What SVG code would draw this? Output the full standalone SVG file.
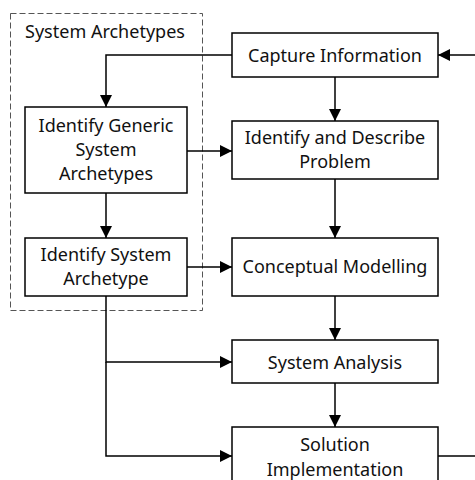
<svg xmlns="http://www.w3.org/2000/svg" width="475" height="480" viewBox="0 0 475 480">
  <defs>
    <marker id="arrow" viewBox="0 0 12 12" refX="12" refY="6" markerWidth="12" markerHeight="12" markerUnits="userSpaceOnUse" orient="auto">
      <path d="M0,0 L12,6 L0,12 Z" fill="#000"/>
    </marker>
    <style>
      .box { fill: #fff; stroke: #000; stroke-width: 1.5; }
      .group { fill: none; stroke: #555; stroke-width: 1; stroke-dasharray: 6 3; }
      .lbl { font-family: "Noto Sans", "Open Sans", sans-serif; font-size: 18px; fill: #111; text-anchor: middle; }
      .conn { fill: none; stroke: #000; stroke-width: 1.5; }
      .arr { marker-end: url(#arrow); }
    </style>
  </defs>
  <rect width="475" height="480" fill="#fff"/>

  <!-- dashed grouping frame -->
  <g id="archetypes-frame">
    <rect class="group" x="10.5" y="13.5" width="192" height="297"/>
    <text class="lbl" x="105" y="38">System Archetypes</text>
  </g>

  <!-- connectors -->
  <g id="connectors">
    <path class="conn arr" d="M232,55 H106 V107"/>
    <path class="conn arr" d="M475,55 H438"/>
    <path class="conn arr" d="M335,77 V121"/>
    <path class="conn arr" d="M187,151 H232"/>
    <path class="conn arr" d="M335,179 V238"/>
    <path class="conn arr" d="M106,193 V238"/>
    <path class="conn arr" d="M187,267 H232"/>
    <path class="conn arr" d="M335,296 V340"/>
    <path class="conn arr" d="M106,296 V362 H232"/>
    <path class="conn arr" d="M106,362 V456 H232"/>
    <path class="conn arr" d="M335,383 V427"/>
    <path class="conn" d="M438,456 H475"/>
  </g>

  <g id="capture-information">
    <rect class="box" x="232" y="33" width="206" height="44"/>
    <text class="lbl" x="335" y="62">Capture Information</text>
  </g>

  <g id="identify-describe-problem">
    <rect class="box" x="232" y="121" width="206" height="58"/>
    <text class="lbl" x="335" y="144">Identify and Describe</text>
    <text class="lbl" x="335" y="168">Problem</text>
  </g>

  <g id="conceptual-modelling">
    <rect class="box" x="232" y="238" width="206" height="58"/>
    <text class="lbl" x="335" y="273">Conceptual Modelling</text>
  </g>

  <g id="system-analysis">
    <rect class="box" x="232" y="340" width="206" height="43"/>
    <text class="lbl" x="335" y="369">System Analysis</text>
  </g>

  <g id="solution-implementation">
    <rect class="box" x="232" y="427" width="206" height="60"/>
    <text class="lbl" x="335" y="451">Solution</text>
    <text class="lbl" x="335" y="476">Implementation</text>
  </g>

  <g id="identify-generic-archetypes">
    <rect class="box" x="25" y="107" width="162" height="86"/>
    <text class="lbl" x="106" y="132">Identify Generic</text>
    <text class="lbl" x="106" y="156">System</text>
    <text class="lbl" x="106" y="180">Archetypes</text>
  </g>

  <g id="identify-system-archetype">
    <rect class="box" x="25" y="238" width="162" height="58"/>
    <text class="lbl" x="106" y="261">Identify System</text>
    <text class="lbl" x="106" y="285">Archetype</text>
  </g>
</svg>
